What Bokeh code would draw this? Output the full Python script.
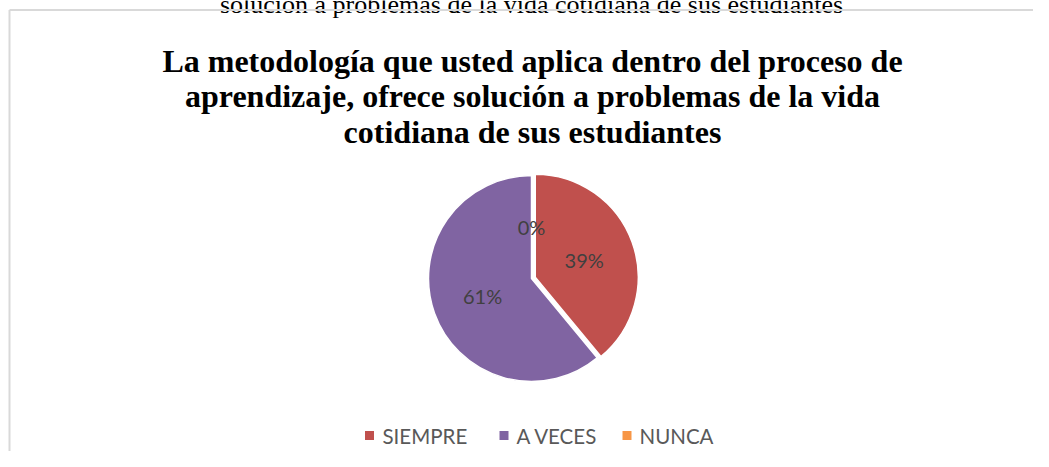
import numpy as np
from bokeh.plotting import figure
from bokeh.models import Range1d, ColumnDataSource
from bokeh.core.properties import value
from bokeh.embed import file_html
from bokeh.resources import INLINE

# ---------------- data ----------------
CATEGORIES = ["SIEMPRE", "A VECES", "NUNCA"]
PERCENTS = [39, 61, 0]
COLORS = ["#C0504D", "#8064A2", "#F79646"]
TITLE_LINES = [
    "La metodología que usted aplica dentro del proceso de",
    "aprendizaje, ofrece solución a problemas de la vida",
    "cotidiana de sus estudiantes",
]
TOP_TEXT = "solución a problemas de la vida cotidiana de sus estudiantes"

# ---------------- layout ----------------
W, H = 1033, 451


def X(px):
    return px


def Y(py):
    return H - py


p = figure(width=W, height=H, x_range=Range1d(0, W), y_range=Range1d(0, H),
           output_backend="svg", toolbar_location=None, min_border=0)
p.axis.visible = False
p.grid.visible = False
p.outline_line_color = None
p.background_fill_color = "white"
p.border_fill_color = "white"

# cut-off document text above the chart frame (cut in the reference too)
p.text(x=[X(531)], y=[Y(4)], text=[TOP_TEXT], text_align="center",
       text_baseline="alphabetic", text_font=value("Liberation Serif"),
       text_font_size="26px", text_color="#000000")

# chart frame (only top and left edges visible)
p.line(x=[X(9), W], y=[Y(9.5), Y(9.5)], line_color="#D9D9D9", line_width=2)
p.line(x=[X(9), X(9)], y=[Y(9.5), 0], line_color="#D9D9D9", line_width=2)

# title
title_y = [Y(60), Y(95.5), Y(131)]
p.text(x=[X(532)] * 3, y=title_y, text=TITLE_LINES, text_align="center",
       text_baseline="alphabetic", text_font=value("Liberation Serif"),
       text_font_style="bold", text_font_size="32px", text_color="#000000")

# pie
frac = np.array(PERCENTS, dtype=float) / sum(PERCENTS)
cum = np.concatenate([[0.0], np.cumsum(frac)])[:-1]
start = np.pi / 2 - 2 * np.pi * (cum + frac)
end = np.pi / 2 - 2 * np.pi * cum
mid = (start + end) / 2
explode = np.array([4.0, 0.0, 0.0])
cx0, cy0, R = X(531), Y(278), 103
cx = cx0 + explode * np.cos(mid)
cy = cy0 + explode * np.sin(mid)

nz = frac > 0
src = ColumnDataSource(dict(x=cx[nz], y=cy[nz], start=start[nz], end=end[nz],
                            color=[c for c, k in zip(COLORS, nz) if k]))
p.wedge(x="x", y="y", radius=R, radius_units="screen", start_angle="start",
        end_angle="end", fill_color="color", line_color="white",
        line_width=1.5, source=src)

# data labels
rl = 52
lx = cx + rl * np.cos(mid)
ly = cy + rl * np.sin(mid)
p.text(x=lx, y=ly, text=[f"{v}%" for v in PERCENTS], text_align="center",
       text_baseline="middle", text_font=value("Lato"), text_font_size="20px",
       text_color="#404040")

# legend
sq_x = [X(369), X(503.5), X(626.5)]
tx_x = [X(382), X(516), X(639)]
leg_y = Y(435)
p.scatter(x=sq_x, y=[leg_y] * 3, marker="square", size=9, fill_color=COLORS,
          line_color=None)
p.text(x=tx_x, y=[leg_y] * 3, text=CATEGORIES, text_align="left",
       text_baseline="middle", text_font=value("Lato"), text_font_size="20.5px",
       text_color="#595959")

open("out.html", "w").write(file_html(p, INLINE))
